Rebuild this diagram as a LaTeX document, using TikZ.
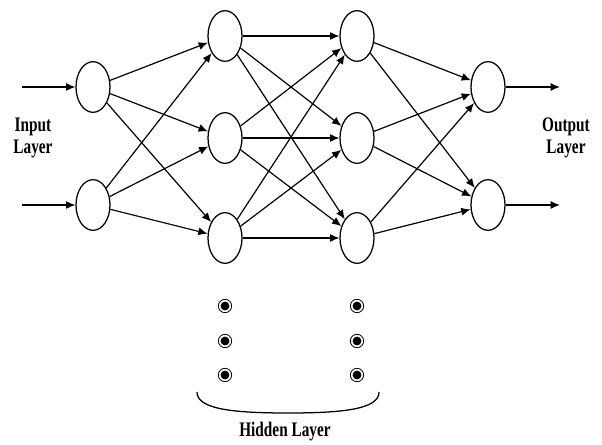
\documentclass[tikz,border=0pt]{standalone}
\usepackage{fontspec}
\setmainfont{Liberation Serif}
\usetikzlibrary{arrows.meta,shapes.geometric}
\begin{document}
\begin{tikzpicture}[x=0.75pt,y=-0.75pt,
  neuron/.style={ellipse,draw,line width=0.95pt,minimum width=25.5pt,minimum height=38pt,inner sep=0pt},
  conn/.style={line width=0.9pt,-{Latex[length=7pt,width=6pt]}},
  dotnode/.style={circle,draw,line width=0.6pt,minimum size=10pt,inner sep=0pt,
     path picture={\fill (path picture bounding box.center) circle (3.3pt);}},
  lbl/.style={font=\fontsize{15.5}{16.5}\selectfont\bfseries,xscale=0.74,align=center}]
\useasboundingbox (0,0) rectangle (602,445);
% nodes
\node[neuron] (i1) at (93,87) {};
\node[neuron] (i2) at (93,205) {};
\node[neuron] (a1) at (225,36) {};
\node[neuron] (a2) at (225,138) {};
\node[neuron] (a3) at (225,238) {};
\node[neuron] (b1) at (357,36) {};
\node[neuron] (b2) at (357,138) {};
\node[neuron] (b3) at (357,238) {};
\node[neuron] (o1) at (488,87) {};
\node[neuron] (o2) at (488,205) {};
% free ends
\coordinate (in1) at (22,87);
\coordinate (in2) at (22,205);
\coordinate (out1) at (560,87);
\coordinate (out2) at (560,205);
% connectors
\draw[conn] (in1) -- (i1);
\draw[conn] (in2) -- (i2);
\foreach \s in {i1,i2}{\foreach \t in {a1,a2,a3}{\draw[conn] (\s) -- (\t);}}
\foreach \s in {a1,a2,a3}{\foreach \t in {b1,b2,b3}{\draw[conn] (\s) -- (\t);}}
\foreach \s in {b1,b2,b3}{\foreach \t in {o1,o2}{\draw[conn] (\s) -- (\t);}}
\draw[conn] (o1) -- (out1);
\draw[conn] (o2) -- (out2);
% dots
\node[dotnode] (d1) at (225,306) {};
\node[dotnode] (d2) at (225,341) {};
\node[dotnode] (d3) at (225,375) {};
\node[dotnode] (e1) at (357,306) {};
\node[dotnode] (e2) at (357,341) {};
\node[dotnode] (e3) at (357,375) {};
% brace
\draw[line width=0.95pt] (197,392) .. controls (197,409) and (232,413) .. (288,413)
   .. controls (344,413) and (379,409) .. (379,392);
% labels
\node[lbl] (inl) at (33,138) {Input\\Layer};
\node[lbl] (outl) at (566,138) {Output\\Layer};
\node[lbl] (hid) at (285,432) {Hidden Layer};
\end{tikzpicture}
\end{document}
